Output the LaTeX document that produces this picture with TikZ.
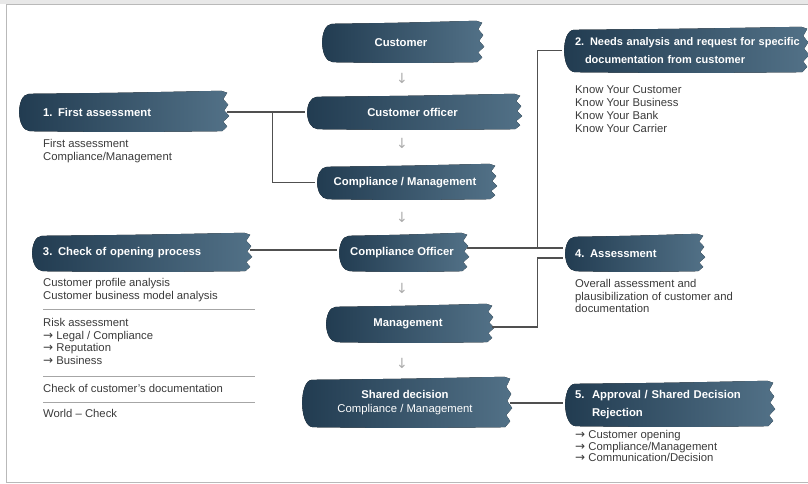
\documentclass[tikz,border=0pt]{standalone}
\usepackage{fontspec}
\setmainfont{Liberation Sans}
\newfontfamily\arrfont{DejaVu Sans}
\usetikzlibrary{calc,backgrounds}
\definecolor{bdk}{RGB}{33,59,80}
\definecolor{blt}{RGB}{82,113,135}
\definecolor{txt}{RGB}{58,58,58}
\definecolor{lnc}{RGB}{80,80,80}
\newcommand\brush[1]{%
\fill[left color=bdk,right color=blt]
($(#1.north west)+(12,2)$)
.. controls ($(#1.north)+(0,1)$) .. ($(#1.north east)+(-6,-1)$)
-- ($(#1.north east)+(0,1)$)
-- ($(#1.north east)!0.18!(#1.south east)+(-4,0)$)
-- ($(#1.north east)!0.32!(#1.south east)+(1,0)$)
-- ($(#1.north east)!0.46!(#1.south east)+(-3,0)$)
-- ($(#1.north east)!0.60!(#1.south east)+(2,0)$)
-- ($(#1.north east)!0.74!(#1.south east)+(-4,0)$)
-- ($(#1.north east)!0.86!(#1.south east)+(0,0)$)
-- ($(#1.south east)+(-5,-1)$)
.. controls ($(#1.south)+(0,0)$) .. ($(#1.south west)+(13,-1)$)
.. controls ($(#1.south west)+(-1,-2)$) and ($(#1.north west)+(-1,3)$) .. ($(#1.north west)+(12,2)$)
-- cycle;}
\tikzset{
  cbox/.style={inner sep=0, align=center, text=white, font=\bfseries\fontsize{11.3}{13}\selectfont},
  lbox/.style={inner xsep=0, inner ysep=0, align=left, text=white, font=\bfseries\fontsize{11.3}{18.5}\selectfont},
  body/.style={inner sep=0, anchor=north west, align=left, text=txt, font=\fontsize{11.3}{12.4}\selectfont},
  darr/.style={inner sep=0, text=gray!65, font=\arrfont\fontsize{14}{14}\selectfont},
  conn/.style={draw=lnc, line width=1.1pt},
  sep/.style={draw=gray!70, line width=0.9pt}
}
\newcommand\ra{{\arrfont\fontsize{12}{10}\selectfont →}\ }
\begin{document}
\begin{tikzpicture}[x=1pt,y=-1pt]
\useasboundingbox (0,0) rectangle (808,484);
% frame
\fill[gray!18] (0,0) rectangle (808,4);
\draw[gray!55, line width=1pt] (808,5) -- (6,5) -- (6,482) -- (808,482);
% centre column
\node[cbox, minimum width=162, minimum height=41] (cust) at (401,42.5) {Customer};
\node[cbox, minimum width=215, minimum height=35] (co) at (412.5,112.5) {Customer officer};
\node[cbox, minimum width=180, minimum height=35] (cm) at (405,182.5) {Compliance / Management};
\node[cbox, minimum width=130, minimum height=38] (cof) at (402,253) {Compliance Officer};
\node[cbox, minimum width=168, minimum height=38] (mg) at (408,324) {Management};
\node[cbox, minimum width=210, minimum height=50, font=\fontsize{11.3}{14}\selectfont] (sd) at (405,403) {\textbf{Shared decision}\\Compliance / Management};
\node[darr] (a1) at (402,78) {↓};
\node[darr] (a2) at (402,143) {↓};
\node[darr] (a3) at (402,217) {↓};
\node[darr] (a4) at (402,288) {↓};
\node[darr] (a5) at (402,363) {↓};
% left
\node[lbox, text width=210, minimum height=40] (fa) at (122,112) {\hspace*{26pt}\mbox{1. First assessment}};
\node[body] (fab) at (43,139.5) {First assessment\\Compliance/Management};
\node[lbox, text width=220, minimum height=38] (cop) at (140,253) {\hspace*{13pt}\mbox{3. Check of opening process}};
\node[body] (cb1) at (43,278.5) {Customer profile analysis\\Customer business model analysis};
\node[body] (cb2) at (43,318.5) {Risk assessment\\\ra Legal / Compliance\\\ra Reputation\\\ra Business};
\node[body] (cb3) at (43,384.5) {Check of customer’s documentation};
\node[body] (cb4) at (43,409.5) {World – Check};
\draw[sep] (43,309) -- (255,309);
\draw[sep] (43,376) -- (255,376);
\draw[sep] (43,402) -- (255,402);
% right
\node[lbox, text width=245, minimum height=45, font=\bfseries\fontsize{11}{18.5}\selectfont] (na) at (684.5,50.5) {\hspace*{13pt}\mbox{\makebox[15pt][l]{2.}Needs analysis and request for specific}\\\hspace*{23pt}\mbox{documentation from customer}};
\node[body, font=\fontsize{11.3}{13}\selectfont] (nab) at (575,85.5) {Know Your Customer\\Know Your Business\\Know Your Bank\\Know Your Carrier};
\node[lbox, text width=140, minimum height=37] (as) at (633,253.5) {\hspace*{12pt}\mbox{4. Assessment}};
\node[body] (asb) at (575,279.5) {Overall assessment and\\plausibilization of customer and\\documentation};
\node[lbox, text width=210, minimum height=45] (ap) at (668,404.5) {\hspace*{12pt}\mbox{\makebox[17pt][l]{5.}Approval / Shared Decision}\\\hspace*{29pt}\mbox{Rejection}};
\node[body, font=\fontsize{11.3}{11.8}\selectfont] (apb) at (575,430) {\ra Customer opening\\\ra Compliance/Management\\\ra Communication/Decision};
% brushes
\begin{scope}[on background layer]
\foreach \n in {cust,co,cm,cof,mg,sd,fa,cop,na,as,ap}{\brush{\n}}
\end{scope}
% connectors
\draw[conn] (fa.east) -- (fa.east -| co.west);
\coordinate (j1) at ($(fa.east)+(45,0)$);
\draw[conn] (j1) |- (cm.west);
\coordinate (c3) at ($(cop.east)+(0,-3)$);
\draw[conn] (c3) -- (c3 -| cof.west);
\coordinate (c4) at ($(cof.east)+(0,-5)$);
\draw[conn] (c4) -- (c4 -| as.west);
\coordinate (j2) at ($(c4)+(70,0)$);
\draw[conn] (na.west) -| (j2);
\coordinate (c5) at ($(mg.east)+(0,3)$);
\coordinate (j3) at ($(j2)+(0,10)$);
\draw[conn] (c5) -| (j3) -- (j3 -| as.west);
\draw[conn] (sd.east) -- (sd.east -| ap.west);
\end{tikzpicture}
\end{document}
